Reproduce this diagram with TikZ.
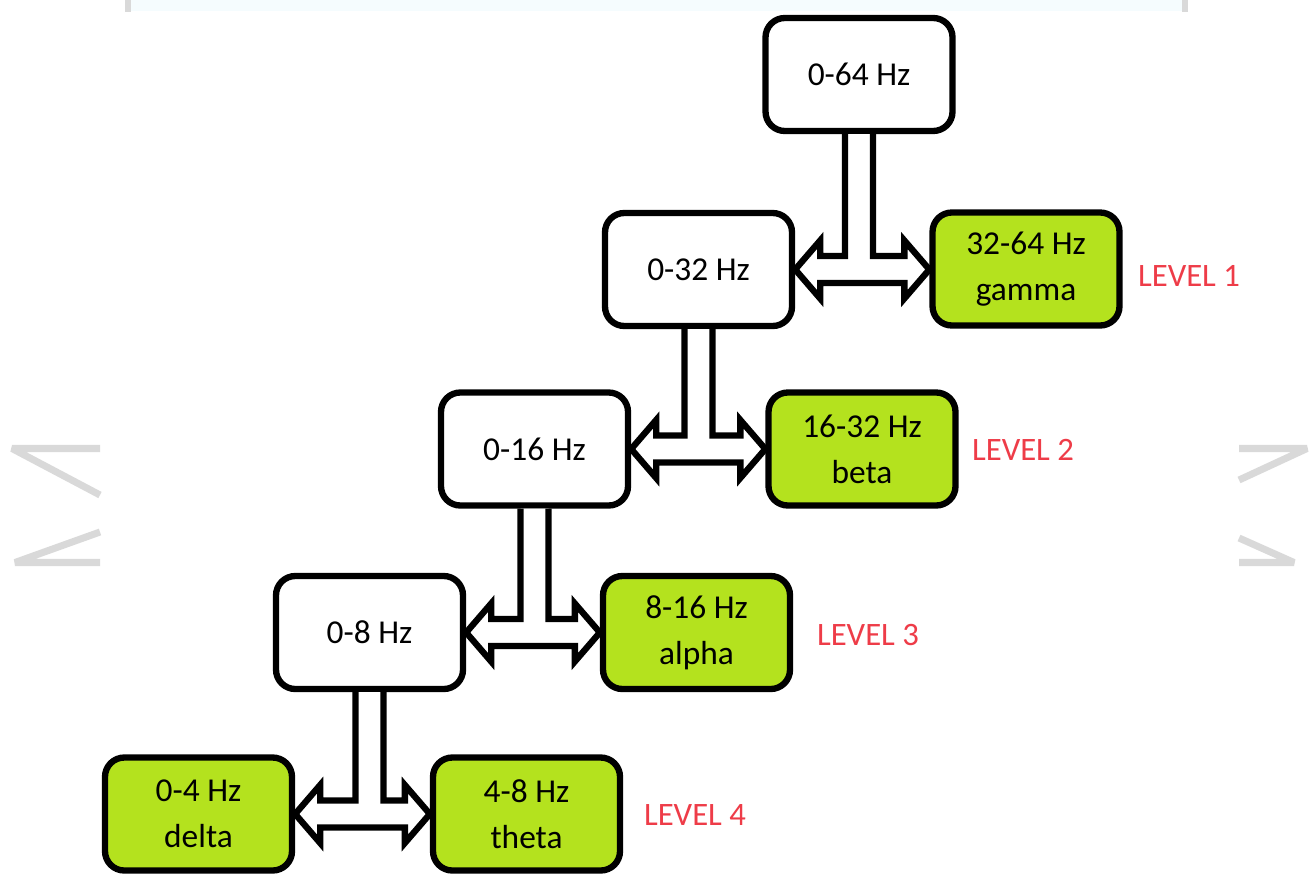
\documentclass[tikz,border=0pt]{standalone}
\usepackage{fontspec}
\setmainfont{Carlito}
\usepackage{tikz}
\usetikzlibrary{calc}

\definecolor{bandgreen}{RGB}{180,226,30}
\definecolor{levelred}{RGB}{238,60,72}
\definecolor{markgray}{RGB}{217,217,217}

\tikzset{
  band/.style={draw, line width=1.8pt, rounded corners=5.5pt, minimum width=1.87cm,
               minimum height=1.13cm, align=center, font=\fontsize{9.5}{13}\selectfont},
  lowband/.style={band, fill=white},
  subband/.style={band, fill=bandgreen},
  levellabel/.style={text=levelred, font=\fontsize{9.3}{12}\selectfont},
  split/.style={draw, fill=white, line width=1.8pt, line join=miter},
  edgemark/.style={markgray, line width=2pt, line join=bevel}
}

% T-shaped split arrow: parent box, left child, right child
\newcommand{\splitarrow}[3]{
  \draw[split] let \p1=(#1.south), \p2=(#2.east), \p3=(#3.west) in
    (\x1-0.14cm,\y1) -- (\x1-0.14cm,\y2+0.135cm) -- (\x2+0.25cm,\y2+0.135cm)
    -- (\x2+0.25cm,\y2+0.29cm) -- (\x2,\y2) -- (\x2+0.25cm,\y2-0.29cm)
    -- (\x2+0.25cm,\y2-0.135cm) -- (\x3-0.25cm,\y2-0.135cm)
    -- (\x3-0.25cm,\y2-0.29cm) -- (\x3,\y2) -- (\x3-0.25cm,\y2+0.29cm)
    -- (\x3-0.25cm,\y2+0.135cm) -- (\x1+0.14cm,\y2+0.135cm) -- (\x1+0.14cm,\y1);
}

\begin{document}
\begin{tikzpicture}
  \useasboundingbox (0,0) rectangle (13.09,-8.75);

  % faint marks at the page edges
  \fill[cyan!4] (1.30,0) rectangle (11.83,-0.11);
  \draw[markgray, line width=1.5pt] (1.28,0) -- (1.28,-0.12);
  \draw[markgray, line width=1.5pt] (11.85,0) -- (11.85,-0.12);
  \draw[edgemark] (1.0,-4.485) -- (0.12,-4.485) -- (1.0,-4.95);
  \draw[edgemark] (1.0,-5.32) -- (0.15,-5.625) -- (1.0,-5.625);
  \draw[edgemark] (12.39,-4.485) -- (13.07,-4.485) -- (12.39,-4.80);
  \draw[edgemark] (12.39,-5.38) -- (12.94,-5.625) -- (12.39,-5.625);

  % level 1
  \node[lowband] (n64) at (8.59,-0.745) {0-64 Hz};
  \node[lowband] (n32) at (6.985,-2.695) {0-32 Hz};
  \node[subband] (gamma) at (10.26,-2.69) {32-64 Hz\\gamma};
  \node[levellabel] (lev1) at (11.89,-2.76) {LEVEL 1};

  % level 2
  \node[lowband] (n16) at (5.345,-4.49) {0-16 Hz};
  \node[subband] (beta) at (8.62,-4.49) {16-32 Hz\\beta};
  \node[levellabel] (lev2) at (10.23,-4.50) {LEVEL 2};

  % level 3
  \node[lowband] (n8) at (3.695,-6.325) {0-8 Hz};
  \node[subband] (alpha) at (6.965,-6.325) {8-16 Hz\\alpha};
  \node[levellabel] (lev3) at (8.68,-6.35) {LEVEL 3};

  % level 4
  \node[subband] (delta) at (1.985,-8.14) {0-4 Hz\\delta};
  \node[subband] (theta) at (5.265,-8.14) {4-8 Hz\\theta};
  \node[levellabel] (lev4) at (6.95,-8.15) {LEVEL 4};

  % split arrows
  \splitarrow{n64}{n32}{gamma}
  \splitarrow{n32}{n16}{beta}
  \splitarrow{n16}{n8}{alpha}
  \splitarrow{n8}{delta}{theta}
\end{tikzpicture}
\end{document}
